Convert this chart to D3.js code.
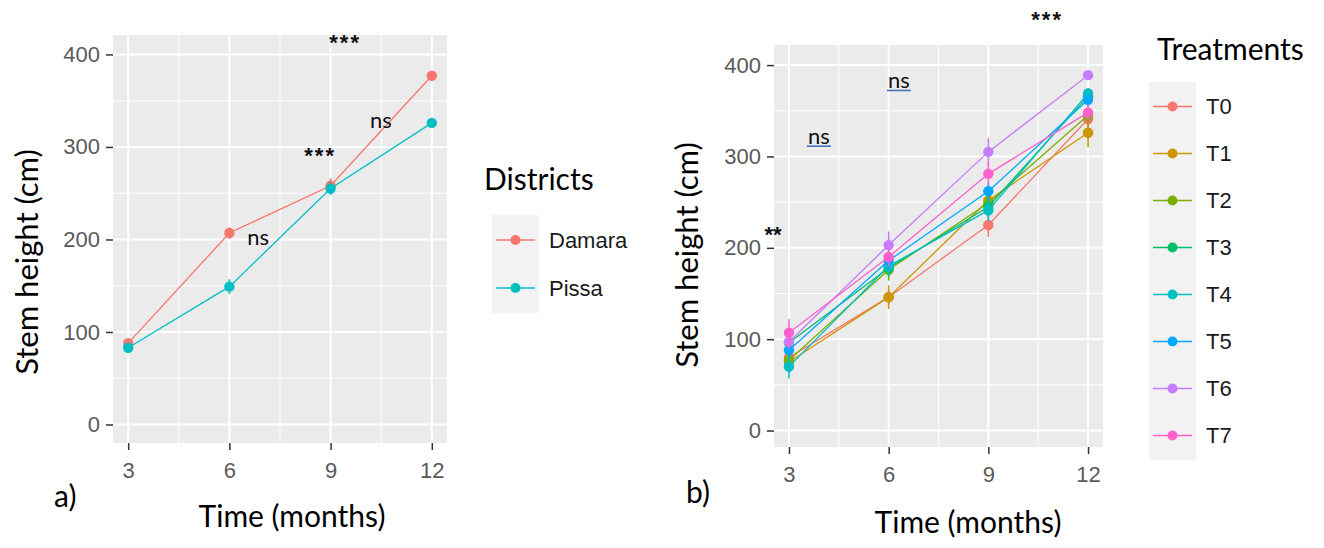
<!DOCTYPE html>
<html>
<head>
<meta charset="utf-8">
<script src="https://cdn.jsdelivr.net/npm/d3@7"></script>
<style>
  body { margin: 0; background: #fff; }
  svg { display: block; }
</style>
</head>
<body>
<script>
// ---- data ----
var months = [3, 6, 9, 12];
var yTicks = [0, 100, 200, 300, 400];

var districts = ['Damara', 'Pissa'];
var districtColors = ['#F8766D', '#00BFC4'];
var damaraHeight = [88, 207, 258, 377];
var damaraErr = [4, 6, 8, 5];
var pissaHeight = [83, 149, 255, 326];
var pissaErr = [4, 8, 7, 3];

var treatments = ['T0', 'T1', 'T2', 'T3', 'T4', 'T5', 'T6', 'T7'];
var treatColors = ['#F8766D', '#CD9600', '#7CAE00', '#00BE67', '#00BFC4', '#00A9FF', '#C77CFF', '#FF61CC'];
var t0 = [80, 146, 225, 341], t0Err = [6, 8, 13, 10];
var t1 = [75, 146, 252, 326], t1Err = [6, 13, 10, 16];
var t2 = [77, 176, 249, 345], t2Err = [6, 12, 10, 8];
var t3 = [96, 178, 245, 366], t3Err = [6, 10, 10, 8];
var t4 = [70, 180, 241, 369], t4Err = [13, 10, 12, 6];
var t5 = [88, 186, 262, 362], t5Err = [8, 10, 10, 8];
var t6 = [97, 203, 305, 389], t6Err = [8, 15, 15, 5];
var t7 = [107, 190, 281, 348], t7Err = [15, 10, 12, 8];

// significance labels: [label, month, height, underlined]
var annotA = [['***', 9.43, 418, false], ['***', 8.69, 296, false], ['ns', 10.49, 327, false], ['ns', 6.85, 201, false]];
var annotB = [['***', 10.77, 455, false], ['ns', 6.31, 381, true], ['ns', 3.9, 320, true], ['**', 2.52, 219, false]];

var titleFont = 'Lato, "Open Sans", sans-serif';
var tickFont = '"Liberation Sans", Arial, sans-serif';

var svg = d3.select('body').append('svg').attr('width', 1324).attr('height', 548);

function drawPanel(p) {
  var x = d3.scaleLinear().domain([2.55, 12.45]).range([p.left, p.right]);
  var y = d3.scaleLinear().domain(p.yDomain).range([p.bottom, p.top]);
  var g = svg.append('g');

  g.append('rect').attr('x', p.left).attr('y', p.top)
    .attr('width', p.right - p.left).attr('height', p.bottom - p.top)
    .attr('fill', '#EBEBEB');

  // minor grid
  [50, 150, 250, 350].forEach(function(v) {
    g.append('line').attr('x1', p.left).attr('x2', p.right).attr('y1', y(v)).attr('y2', y(v))
      .attr('stroke', '#fff').attr('stroke-width', 1.1);
  });
  [4.5, 7.5, 10.5].forEach(function(v) {
    g.append('line').attr('y1', p.top).attr('y2', p.bottom).attr('x1', x(v)).attr('x2', x(v))
      .attr('stroke', '#fff').attr('stroke-width', 1.1);
  });
  // major grid
  yTicks.forEach(function(v) {
    g.append('line').attr('x1', p.left).attr('x2', p.right).attr('y1', y(v)).attr('y2', y(v))
      .attr('stroke', '#fff').attr('stroke-width', 2);
  });
  months.forEach(function(v) {
    g.append('line').attr('y1', p.top).attr('y2', p.bottom).attr('x1', x(v)).attr('x2', x(v))
      .attr('stroke', '#fff').attr('stroke-width', 2);
  });

  // axes
  var yAxis = d3.axisLeft(y).tickValues(yTicks).tickSize(7).tickPadding(6);
  var xAxis = d3.axisBottom(x).tickValues(months).tickSize(7).tickPadding(p.xPad);
  var ya = g.append('g').attr('transform', 'translate(' + p.left + ',0)').call(yAxis);
  var xa = g.append('g').attr('transform', 'translate(0,' + p.bottom + ')').call(xAxis);
  [ya, xa].forEach(function(a) {
    a.select('.domain').remove();
    a.selectAll('.tick line').attr('stroke', '#333').attr('stroke-width', 1.5);
    a.selectAll('.tick text').attr('fill', '#5a5a5a').style('font-family', tickFont).style('font-size', '22px');
  });

  // series
  p.series.forEach(function(s) {
    var pts = months.map(function(m, i) { return {m: m, v: s.values[i], e: s.err[i]}; });
    g.append('path').datum(pts)
      .attr('d', d3.line().x(function(d) { return x(d.m); }).y(function(d) { return y(d.v); }))
      .attr('fill', 'none').attr('stroke', s.color).attr('stroke-width', 1.3);
    g.selectAll(null).data(pts).enter().append('line')
      .attr('x1', function(d) { return x(d.m); }).attr('x2', function(d) { return x(d.m); })
      .attr('y1', function(d) { return y(d.v - d.e); }).attr('y2', function(d) { return y(d.v + d.e); })
      .attr('stroke', s.color).attr('stroke-width', 1.6);
    g.selectAll(null).data(pts).enter().append('circle')
      .attr('cx', function(d) { return x(d.m); }).attr('cy', function(d) { return y(d.v); })
      .attr('r', 5.2).attr('fill', s.color);
  });

  // significance labels
  p.annot.forEach(function(a) {
    var cx = x(a[1]), cy = y(a[2]);
    if (a[0].charAt(0) === '*') {
      g.append('text').attr('x', cx).attr('y', cy + 12).attr('text-anchor', 'middle')
        .style('font-family', tickFont).style('font-size', '22px').style('font-weight', 'bold')
        .style('letter-spacing', a[0].length > 2 ? '2px' : '0px').attr('fill', '#111').text(a[0]);
    } else {
      g.append('text').attr('x', cx).attr('y', cy + 6).attr('text-anchor', 'middle')
        .style('font-family', titleFont).style('font-size', '22px').attr('fill', '#111').text(a[0]);
      if (a[3]) {
        g.append('line').attr('x1', cx - 12).attr('x2', cx + 12).attr('y1', cy + 8).attr('y2', cy + 8)
          .attr('stroke', '#4472C4').attr('stroke-width', 1.6);
      }
    }
  });

  // axis titles
  g.append('text').attr('transform', 'translate(' + p.yTitleX + ',' + p.yTitleY + ') rotate(-90)')
    .attr('text-anchor', 'middle').style('font-family', titleFont).style('font-size', '31px')
    .attr('fill', '#000').text('Stem height (cm)');
  g.append('text').attr('x', p.xTitleX).attr('y', p.xTitleY).attr('text-anchor', 'middle')
    .style('font-family', titleFont).style('font-size', '30px').attr('fill', '#000').text('Time (months)');
  g.append('text').attr('x', p.tagX).attr('y', p.tagY)
    .style('font-family', titleFont).style('font-size', '30px').attr('fill', '#000').text(p.tag);

  // legend
  var L = p.legend;
  g.append('text').attr('x', L.titleX).attr('y', L.titleY)
    .style('font-family', titleFont).style('font-size', '30px').attr('fill', '#000').text(L.title);
  g.append('rect').attr('x', L.boxX).attr('y', L.boxY).attr('width', 47)
    .attr('height', L.step * L.names.length + 2).attr('fill', '#F2F2F2');
  L.names.forEach(function(n, i) {
    var cy = L.boxY + L.step / 2 + 1 + i * L.step;
    g.append('line').attr('x1', L.boxX + 4).attr('x2', L.boxX + 43).attr('y1', cy).attr('y2', cy)
      .attr('stroke', L.colors[i]).attr('stroke-width', 1.6);
    g.append('circle').attr('cx', L.boxX + 23.5).attr('cy', cy).attr('r', 5).attr('fill', L.colors[i]);
    g.append('text').attr('x', L.boxX + 57).attr('y', cy).attr('dy', '0.36em')
      .style('font-family', tickFont).style('font-size', '22px').attr('fill', '#1a1a1a').text(n);
  });
}

drawPanel({
  left: 113, right: 447, top: 35, bottom: 443, yDomain: [-20, 421], xPad: 12,
  series: [
    {values: damaraHeight, err: damaraErr, color: districtColors[0]},
    {values: pissaHeight, err: pissaErr, color: districtColors[1]}
  ],
  annot: annotA,
  yTitleX: 38, yTitleY: 262, xTitleX: 292, xTitleY: 527, tag: 'a)', tagX: 54, tagY: 507,
  legend: {title: 'Districts', titleX: 484, titleY: 190, boxX: 492, boxY: 215, step: 48,
           names: districts, colors: districtColors}
});

drawPanel({
  left: 774, right: 1103, top: 45, bottom: 447, yDomain: [-18, 422], xPad: 12,
  series: [t0, t1, t2, t3, t4, t5, t6, t7].map(function(v, i) {
    return {values: v, err: [t0Err, t1Err, t2Err, t3Err, t4Err, t5Err, t6Err, t7Err][i], color: treatColors[i]};
  }),
  annot: annotB,
  yTitleX: 698, yTitleY: 255, xTitleX: 968, xTitleY: 533, tag: 'b)', tagX: 686, tagY: 503,
  legend: {title: 'Treatments', titleX: 1157, titleY: 60, boxX: 1149, boxY: 82, step: 47,
           names: treatments, colors: treatColors}
});
</script>
</body>
</html>
